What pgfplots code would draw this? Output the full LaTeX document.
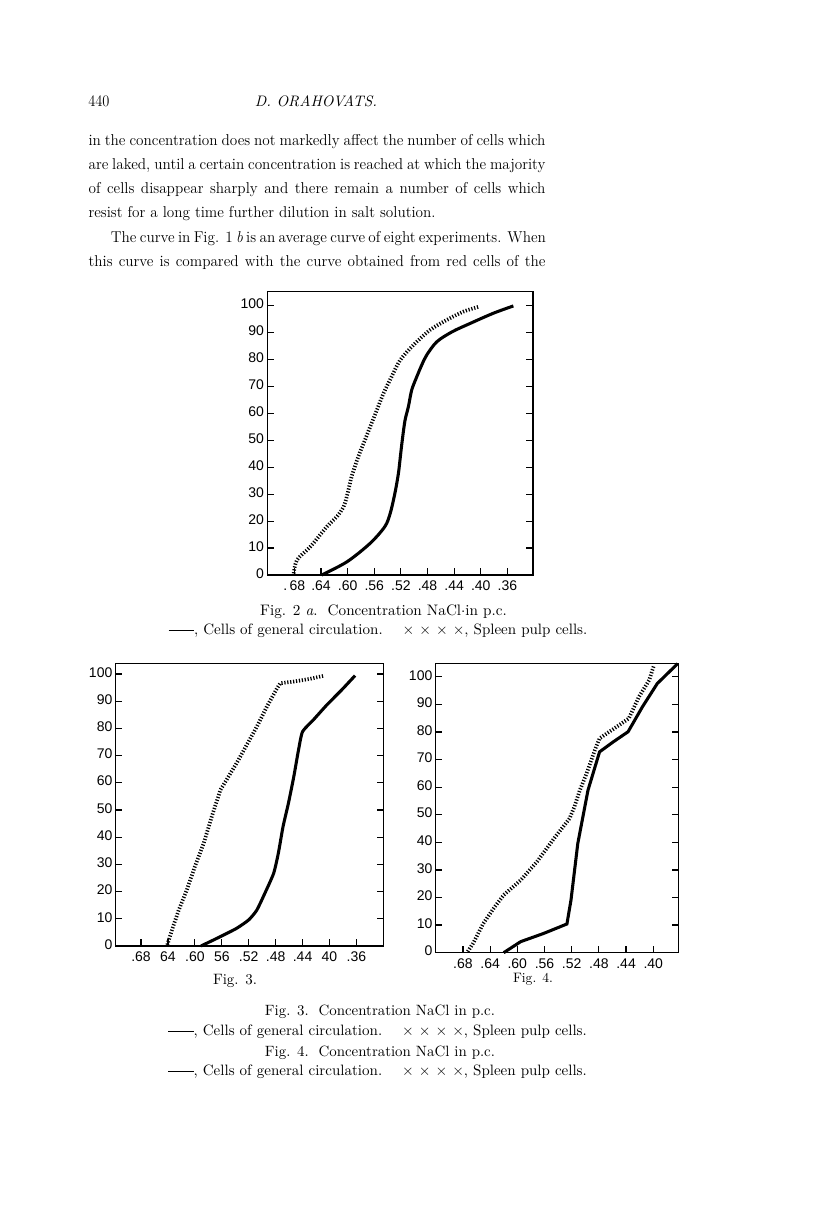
\documentclass[border=0pt]{standalone}
\usepackage{pgfplots}
\pgfplotsset{compat=1.18}
\usepackage{fontspec}
\usepackage{graphicx}
\newfontfamily\tickfont{Liberation Sans}

\tikzset{xmarks/.style={line width=2.8pt, dash pattern=on 0.9pt off 1.3pt}}

\pgfplotsset{pagefig/.style={scale only axis, x dir=reverse, ymin=0,
  tick align=inside, xtick pos=left, ytick pos=both, yticklabel pos=left,
  major tick length=5pt, axis line style={line width=1pt},
  every tick/.style={line width=0.9pt, black},
  ytick={0,10,20,30,40,50,60,70,80,90,100},
  yticklabels={0,10,20,30,40,50,60,70,80,90,100},
  typeset ticklabels with strut,
  tick label style={font=\tickfont\fontsize{10.5}{12}\selectfont},
  yticklabel style={xshift=1pt},
  clip=false}}

\newcommand\pp[2]{(#1*0.75pt,-#2*0.75pt)}
\newcommand\bodyfont{\fontsize{12.4}{14}\selectfont}
\newcommand\jline[1]{\scalebox{0.92}[0.95]{\makebox[372.5pt][s]{\bodyfont #1}}}
\newcommand\lline[1]{\scalebox{0.92}[0.95]{\bodyfont #1}}
\newcommand\legline{\rule[0.55ex]{1.7em}{0.45pt}, Cells of general circulation.\quad\ $\times$ $\times$ $\times$ $\times$, Spleen pulp cells.}

\begin{document}
\begin{tikzpicture}
\path[use as bounding box, fill=white] (0,0) rectangle (612pt,-915.75pt);

% header
\node[anchor=base west, inner sep=0] at \pp{88}{106.7} {\scalebox{0.9}[1]{\fontsize{12}{13}\selectfont 440}};
\node[anchor=base, inner sep=0] at \pp{316}{106.7} {\resizebox{91.5pt}{!}{\itshape D. ORAHOVATS.}};

% body text
\node[anchor=base west, inner sep=0] at \pp{88.3}{145} {\jline{in the concentration does not markedly affect the number of cells which}};
\node[anchor=base west, inner sep=0] at \pp{88.3}{169.3} {\jline{are laked, until a certain concentration is reached at which the majority}};
\node[anchor=base west, inner sep=0] at \pp{88.3}{193.6} {\jline{of cells disappear sharply and there remain a number of cells which}};
\node[anchor=base west, inner sep=0] at \pp{88.3}{217.9} {\lline{resist for a long time further dilution in salt solution.}};
\node[anchor=base west, inner sep=0] at \pp{110.7}{242.2} {\scalebox{0.92}[0.95]{\makebox[354.6pt][s]{\bodyfont The curve in Fig. 1 \textit{b} is an average curve of eight experiments. When}}};
\node[anchor=base west, inner sep=0] at \pp{88.3}{266.5} {\jline{this curve is compared with the curve obtained from red cells of the}};

% ---------- Fig. 2a ----------
\begin{axis}[pagefig, at={(200.5pt,-431.25pt)}, anchor=south west,
  width=199.3pt, height=212.5pt, xmin=0.3214, xmax=0.7206, ymax=105.2,
  xtick={0.36,0.40,0.44,0.48,0.52,0.56,0.60,0.64,0.68},
  xticklabels={.36,.40,.44,.48,.52,.56,.60,.64,{.\,68}}]
\addplot[line width=2.3pt, smooth, tension=0.5] coordinates {
(0.639,0) (0.601,4.9) (0.566,11.8) (0.544,18) (0.536,22.9) (0.529,30.3)
(0.5237,37.7) (0.5202,45.2) (0.5172,51.4) (0.5137,57.5) (0.5087,62.5)
(0.5037,68.7) (0.4961,73.6) (0.4886,78.0) (0.4811,81.7)
(0.466,86.6) (0.443,90.3) (0.416,93.4) (0.381,97.2) (0.351,99.9)};
\addplot[xmarks, smooth, tension=0.5] coordinates {
(0.681,0.6) (0.676,5.6) (0.656,10.5) (0.631,18) (0.616,21.7) (0.606,25.4)
(0.600,30.3) (0.594,36.5) (0.584,43.9) (0.574,50.1) (0.566,55.1) (0.556,61.3)
(0.546,67.5) (0.534,73.6) (0.521,79.8) (0.501,85.4) (0.476,91) (0.451,94.7)
(0.426,97.8) (0.403,99.6)};
\end{axis}

% ---------- Fig. 3 ----------
\begin{axis}[pagefig, at={(86.8pt,-709.5pt)}, anchor=south west,
  width=200.7pt, height=212pt, xmin=0.32, xmax=0.7176, ymax=103.9,
  xtick={0.36,0.40,0.44,0.48,0.52,0.56,0.60,0.64,0.68},
  xticklabels={.36,40,.44,.48,.52,56,.60,64,.68}]
\addplot[line width=2.3pt, smooth, tension=0.35] coordinates {
(0.591,0) (0.5625,3.4) (0.538,6.5) (0.520,9.6) (0.508,13.2) (0.496,19.4)
(0.483,26.7) (0.476,34.1) (0.469,43.9) (0.461,52.5) (0.453,62.3) (0.446,72.1)
(0.440,78.8) (0.424,83.1) (0.404,88.6) (0.382,94.1) (0.362,99.4)};
\addplot[xmarks] coordinates {
(0.641,0.4) (0.634,5.9) (0.624,13.2) (0.612,20.6) (0.600,29.2) (0.587,37.7)
(0.575,47.5) (0.562,57.4) (0.550,62.3) (0.538,67.2) (0.523,73.9) (0.508,80.6)
(0.493,88) (0.478,94.7) (0.473,96.6) (0.453,97.2) (0.429,98.2) (0.409,99.3)};
\end{axis}

% ---------- Fig. 4 ----------
\begin{axis}[pagefig, at={(326.8pt,-714.5pt)}, anchor=south west,
  width=182pt, height=217pt, xmin=0.363, xmax=0.72, ymax=104.9,
  xtick={0.40,0.44,0.48,0.52,0.56,0.60,0.64,0.68},
  xticklabels={.40,.44,.48,.52,.56,.60,.64,.68}]
\addplot[line width=2.3pt] coordinates {
(0.620,0) (0.595,4) (0.561,7) (0.527,10.4) (0.521,19.1) (0.511,39.6)
(0.496,58.9) (0.479,72.8) (0.459,76.4) (0.437,80.1) (0.416,89.1)
(0.394,97.6) (0.364,104.8)};
\addplot[xmarks] coordinates {
(0.673,0.4) (0.665,3.4) (0.650,10.6) (0.633,16.7) (0.620,20.9) (0.595,26.3)
(0.571,33) (0.546,41.4) (0.523,48.7) (0.516,52.9) (0.508,58.9) (0.498,65)
(0.486,73.4) (0.479,77.7) (0.461,80.7) (0.436,84.9) (0.421,92.8)
(0.406,98.8) (0.399,104.2)};
\end{axis}

% captions
\node[anchor=base, inner sep=0] at \pp{383.5}{615} {\resizebox{185pt}{!}{Fig. 2 \textit{a}.\ \ Concentration NaCl$\cdot$in p.c.}};
\node[anchor=base, inner sep=0] at \pp{378}{634} {\resizebox{314pt}{!}{\legline}};

\node[anchor=base, inner sep=0] at \pp{235}{984} {\resizebox{33pt}{!}{Fig. 3.}};
\node[anchor=base, inner sep=0] at \pp{533}{982} {\resizebox{30pt}{!}{Fig. 4.}};

\node[anchor=base, inner sep=0] at \pp{380}{1015} {\resizebox{172.5pt}{!}{Fig. 3.\ \ Concentration NaCl in p.c.}};
\node[anchor=base, inner sep=0] at \pp{377.5}{1035} {\resizebox{314pt}{!}{\legline}};
\node[anchor=base, inner sep=0] at \pp{380}{1056.5} {\resizebox{172.5pt}{!}{Fig. 4.\ \ Concentration NaCl in p.c.}};
\node[anchor=base, inner sep=0] at \pp{377.5}{1075} {\resizebox{314pt}{!}{\legline}};
\end{tikzpicture}
\end{document}
